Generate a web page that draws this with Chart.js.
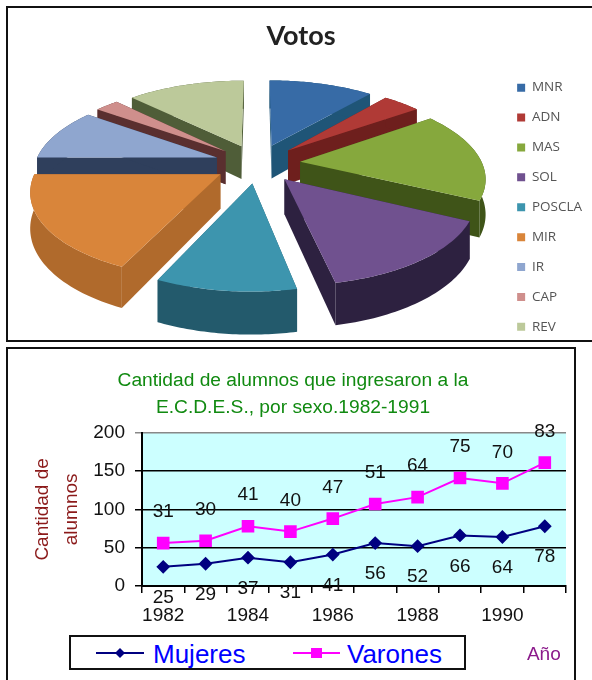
<!DOCTYPE html>
<html>
<head>
<meta charset="utf-8">
<title>Votos y alumnos</title>
<script src="https://cdn.jsdelivr.net/npm/chart.js@4/dist/chart.umd.min.js"></script>
<style>
  html, body { margin: 0; padding: 0; background: #fff; }
  body { position: relative; width: 592px; height: 680px; overflow: hidden; }
  canvas { position: absolute; left: 0; }
  #votos { top: 0; }
  #alumnos { top: 345px; }
  .frame { position: absolute; border: 2px solid #111; box-sizing: border-box; pointer-events: none; }
  #frameTop { left: 6px; top: 6px; width: 600px; height: 336px; }
  #frameBottom { left: 6px; top: 347px; width: 570px; height: 350px; }
  #leyenda {
    position: absolute; left: 69px; top: 635px; width: 397px; height: 35px;
    box-sizing: border-box; border: 2px solid #111; background: #fff;
    font: 26px "Liberation Sans", Arial, sans-serif; color: #0000ff;
  }
  #leyenda svg, #leyenda span { position: absolute; }
  #leyenda span { top: 2px; line-height: 30px; }
</style>
</head>
<body>
<canvas id="votos" width="593" height="350"></canvas>
<canvas id="alumnos" width="586" height="335"></canvas>
<div id="frameTop" class="frame"></div>
<div id="frameBottom" class="frame"></div>
<div id="leyenda">
  <svg style="left:25px;top:8px" width="50" height="16">
    <line x1="0" y1="8" x2="48" y2="8" stroke="#000080" stroke-width="2"/>
    <polygon points="24,3 29,8 24,13 19,8" fill="#000080"/>
  </svg>
  <span style="left:82px">Mujeres</span>
  <svg style="left:222px;top:8px" width="50" height="16">
    <line x1="0" y1="8" x2="47" y2="8" stroke="#ff00ff" stroke-width="2"/>
    <rect x="18" y="3" width="11" height="10" fill="#ff00ff"/>
  </svg>
  <span style="left:276px">Varones</span>
</div>

<script>
// votos por partido
var partidos = ["MNR", "ADN", "MAS", "SOL", "POSCLA", "MIR", "IR", "CAP", "REV"];
var votos = [11.1, 4, 17.2, 14.5, 10, 18.2, 10, 2.5, 12.5];
var coloresCara = ["#376ba6", "#b03a36", "#86a83d", "#70518f", "#3d95ae", "#d9853a", "#8fa6cf", "#cf8f8c", "#bcc99a"];
var coloresLado = ["#1f5577", "#6e1f1d", "#3f5418", "#2d2140", "#235a6c", "#b06a2c", "#2f3f5c", "#5a2f2f", "#4f5d38"];

// alumnos por sexo, 1982-1991
var anios = ["1982", "1983", "1984", "1985", "1986", "1987", "1988", "1989", "1990", "1991"];
var mujeres = [25, 29, 37, 31, 41, 56, 52, 66, 64, 78];
var varones = [31, 30, 41, 40, 47, 51, 64, 75, 70, 83];
var ticksY = [0, 50, 100, 150, 200];

var fuente = '"Liberation Sans", Arial, sans-serif';

// dibuja los sectores en perspectiva a partir de los angulos que calcula Chart.js
var tarta3d = {
  id: 'tarta3d',
  beforeDatasetDraw: function(chart, args) {
    var ctx = chart.ctx;
    var arcos = args.meta.data;
    var RX = 182, RY = 82, K = 0.17, ALTO = 34, MOVER_X = 2, SUBIR = 40;

    var sectores = arcos.map(function(arc, i) {
      var medio = (arc.startAngle + arc.endAngle) / 2;
      var sep = arc.options.offset / arc.outerRadius;
      return { arc: arc, i: i, ox: Math.cos(medio) * sep, oy: Math.sin(medio) * sep };
    });
    sectores.sort(function(a, b) { return a.oy - b.oy; });

    sectores.forEach(function(s) {
      var arc = s.arc;
      var cx = arc.x + MOVER_X, cy = arc.y - SUBIR;
      var punto = function(u, v, z) {
        var f = 1 / (1 - K * v);
        return [cx + u * RX * f, cy + (v * RY + z * ALTO) * f];
      };
      var borde = function(z) {
        var pts = [];
        var n = 40;
        for (var j = 0; j <= n; j++) {
          var a = arc.startAngle + (arc.endAngle - arc.startAngle) * j / n;
          pts.push(punto(s.ox + Math.cos(a), s.oy + Math.sin(a), z));
        }
        return pts;
      };
      var poligono = function(pts, color) {
        ctx.beginPath();
        pts.forEach(function(p, j) { j ? ctx.lineTo(p[0], p[1]) : ctx.moveTo(p[0], p[1]); });
        ctx.closePath();
        ctx.fillStyle = color;
        ctx.fill();
      };
      var arriba = borde(0), abajo = borde(1);
      var c0 = punto(s.ox, s.oy, 0), c1 = punto(s.ox, s.oy, 1);
      var lado = coloresLado[s.i];

      poligono([c0, c1, abajo[0], arriba[0]], lado);
      poligono([c0, c1, abajo[abajo.length - 1], arriba[arriba.length - 1]], lado);
      poligono(arriba.concat(abajo.slice().reverse()), lado);
      poligono([c0].concat(arriba), arc.options.backgroundColor);
    });
    return false;
  }
};

new Chart(document.getElementById('votos'), {
  type: 'pie',
  data: {
    labels: partidos,
    datasets: [{ data: votos, backgroundColor: coloresCara, borderWidth: 0, offset: 31 }]
  },
  options: {
    responsive: false,
    animation: false,
    layout: { padding: { left: 10, right: 1, top: 8 } },
    plugins: {
      title: {
        display: true,
        text: 'Votos',
        color: '#222',
        font: { family: 'Lato, sans-serif', size: 27, weight: 'bold' },
        padding: { top: 12, bottom: 4.4 }
      },
      legend: {
        position: 'right',
        align: 'end',
        labels: {
          boxWidth: 8,
          boxHeight: 8,
          padding: 16.4,
          color: '#555',
          font: { family: '"Open Sans", sans-serif', size: 13.5 }
        }
      },
      tooltip: { enabled: false }
    }
  },
  plugins: [tarta3d]
});

// fondo del area de trazado
var fondoPlot = {
  id: 'fondoPlot',
  beforeDraw: function(chart) {
    var a = chart.chartArea;
    chart.ctx.fillStyle = '#ccffff';
    chart.ctx.fillRect(a.left, a.top, a.width, a.height);
  }
};

// rotulos con el valor propio de cada serie, encima o debajo del punto
var rotulos = {
  id: 'rotulos',
  afterDatasetsDraw: function(chart) {
    var ctx = chart.ctx;
    var desplaza = [31, -31];
    ctx.save();
    ctx.font = '19px ' + fuente;
    ctx.fillStyle = '#111';
    ctx.textAlign = 'center';
    ctx.textBaseline = 'middle';
    chart.data.datasets.forEach(function(ds, d) {
      chart.getDatasetMeta(d).data.forEach(function(pt, i) {
        ctx.fillText(ds.data[i], pt.x, pt.y + desplaza[d]);
      });
    });
    ctx.restore();
  }
};

new Chart(document.getElementById('alumnos'), {
  type: 'line',
  data: {
    labels: anios,
    datasets: [
      {
        label: 'Mujeres', data: mujeres, borderColor: '#000080', backgroundColor: '#000080',
        borderWidth: 2, pointStyle: 'rectRot', pointRadius: 5.5, tension: 0
      },
      {
        label: 'Varones', data: varones, borderColor: '#ff00ff', backgroundColor: '#ff00ff',
        borderWidth: 2, pointStyle: 'rect', pointRadius: 7.5, tension: 0
      }
    ]
  },
  options: {
    responsive: false,
    animation: false,
    layout: { padding: { left: 20, right: 20 } },
    plugins: {
      legend: { display: false },
      tooltip: { enabled: false },
      title: {
        display: true,
        text: ['Cantidad de alumnos que ingresaron a la', 'E.C.D.E.S., por sexo.1982-1991'],
        color: '#118a11',
        font: { family: fuente, size: 19.2, weight: 'normal', lineHeight: 1.4 },
        padding: { top: 22, bottom: 12 }
      }
    },
    scales: {
      x: {
        offset: true,
        afterFit: function(s) { s.height = 94; },
        grid: { offset: true, drawOnChartArea: false, color: '#000', lineWidth: 1.5, tickLength: 7 },
        border: { color: '#000', width: 2 },
        ticks: {
          autoSkip: false,
          maxRotation: 0,
          padding: 11,
          color: '#111',
          font: { family: fuente, size: 19 },
          callback: function(v, i) { return i % 2 === 0 ? anios[i] : ''; }
        },
        title: {
          display: true,
          align: 'end',
          text: 'Año\u00a0',
          color: '#8b1a8b',
          font: { family: fuente, size: 19 },
          padding: { top: 0, bottom: 14 }
        }
      },
      y: {
        stacked: true,
        min: ticksY[0],
        max: ticksY[ticksY.length - 1],
        afterFit: function(s) { s.width = 122; },
        afterBuildTicks: function(s) { s.ticks = ticksY.map(function(v) { return { value: v }; }); },
        grid: {
          color: function(c) { return c.tick.value === 200 ? '#888' : '#000'; },
          lineWidth: 1.5,
          tickLength: 7
        },
        border: { color: '#000', width: 2 },
        ticks: { padding: 10, color: '#111', font: { family: fuente, size: 19 } },
        title: {
          display: true,
          text: ['Cantidad de', 'alumnos'],
          color: '#8b1a1a',
          font: { family: fuente, size: 19, lineHeight: 1.5 },
          padding: { top: 9, bottom: 0 }
        }
      }
    }
  },
  plugins: [fondoPlot, rotulos]
});
</script>
</body>
</html>
